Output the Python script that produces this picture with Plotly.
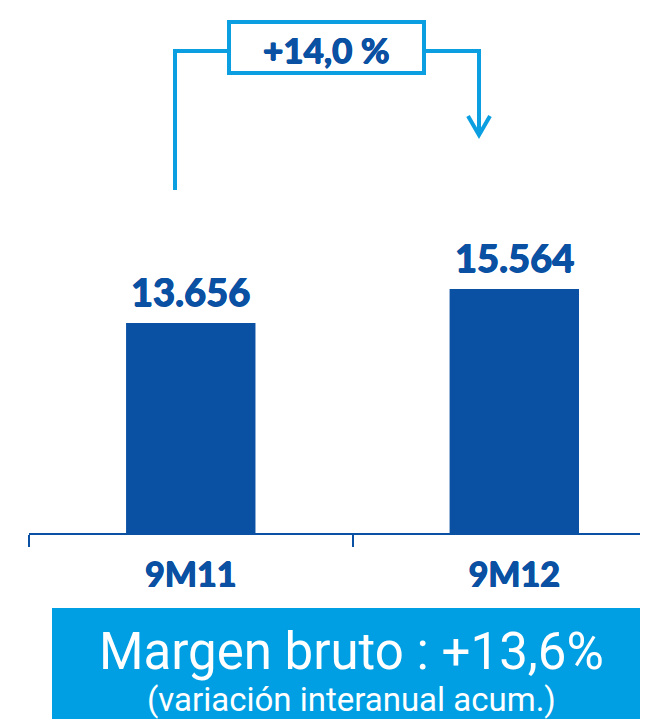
import plotly.graph_objects as go

# ---- data ----
categories = ["9M11", "9M12"]
values = [13656, 15564]
value_labels = ["13.656", "15.564"]
growth_label = "+14,0 %"
footer_title = "Margen bruto : +13,6%"
footer_sub = "(variación interanual acum.)"

# ---- styling ----
W, H = 648, 719
ML, MR, MT, MB = 21, 0, 0, 194
PW, PH = W - ML - MR, H - MT - MB
DARK = "#0B51A3"
LIGHT = "#0B9FE2"
BOX = "#009FE3"
HEAVY = f"0.7px 0 {DARK}, -0.7px 0 {DARK}, 0 0.5px {DARK}, 0 -0.5px {DARK}"


def px(x):
    return (x - ML) / PW


def py(y):
    return 1 - (y - MT) / PH


fig = go.Figure()
fig.add_trace(go.Bar(
    x=categories, y=values, width=0.40,
    marker=dict(color=DARK, line=dict(width=0)),
    hoverinfo="skip",
))

for c, v, lab in zip(categories, values, value_labels):
    fig.add_annotation(x=c, y=v, xref="x", yref="y", text=lab, showarrow=False,
                       yanchor="bottom", yshift=7,
                       font=dict(family="Lato", size=38, color=DARK, weight="bold",
                                 shadow=HEAVY))

shapes = [
    dict(type="path", xref="paper", yref="paper",
         path=f"M {px(167)},{py(182)} L {px(167)},{py(43)} L {px(220)},{py(43)}",
         line=dict(color=LIGHT, width=4)),
    dict(type="path", xref="paper", yref="paper",
         path=f"M {px(417)},{py(43)} L {px(471)},{py(43)} L {px(471)},{py(127)}",
         line=dict(color=LIGHT, width=4)),
    dict(type="path", xref="paper", yref="paper",
         path=f"M {px(460)},{py(108)} L {px(471)},{py(127)} L {px(482)},{py(108)}",
         line=dict(color=LIGHT, width=4)),
    dict(type="rect", xref="paper", yref="paper",
         x0=px(221), x1=px(416), y0=py(65), y1=py(14),
         fillcolor="white", line=dict(color=LIGHT, width=4)),
    dict(type="rect", xref="paper", yref="paper",
         x0=px(44), x1=px(643), y0=py(725), y1=py(600),
         fillcolor=BOX, line=dict(width=0), layer="below"),
]

fig.add_annotation(x=px(318), y=py(41), xref="paper", yref="paper", text=growth_label,
                   showarrow=False, xanchor="center", yanchor="middle",
                   font=dict(family="Lato", size=35, color=DARK, weight="bold",
                             shadow=HEAVY))
fig.add_annotation(x=px(343), y=py(643), xref="paper", yref="paper", text=footer_title,
                   showarrow=False, xanchor="center", yanchor="middle",
                   font=dict(family="Roboto", size=51, color="white"))
fig.add_annotation(x=px(343), y=py(691), xref="paper", yref="paper", text=footer_sub,
                   showarrow=False, xanchor="center", yanchor="middle",
                   font=dict(family="Roboto", size=33, color="white"))

fig.update_layout(
    width=W, height=H,
    margin=dict(l=ML, r=MR, t=MT, b=MB, pad=0),
    paper_bgcolor="white", plot_bgcolor="white",
    showlegend=False, shapes=shapes,
    xaxis=dict(range=[-0.5, 1.438], type="category", showline=True, linecolor=DARK,
               linewidth=2, ticks="outside", tickson="boundaries", ticklen=12,
               tickwidth=2, tickcolor=DARK, showgrid=False, zeroline=False,
               tickfont=dict(family="Lato", size=34, color=DARK, weight="bold",
                             shadow=HEAVY),
               ticklabelstandoff=11, fixedrange=True),
    yaxis=dict(range=[1871, 31333], visible=False, showgrid=False, fixedrange=True),
)

fig.write_html("out.html")
